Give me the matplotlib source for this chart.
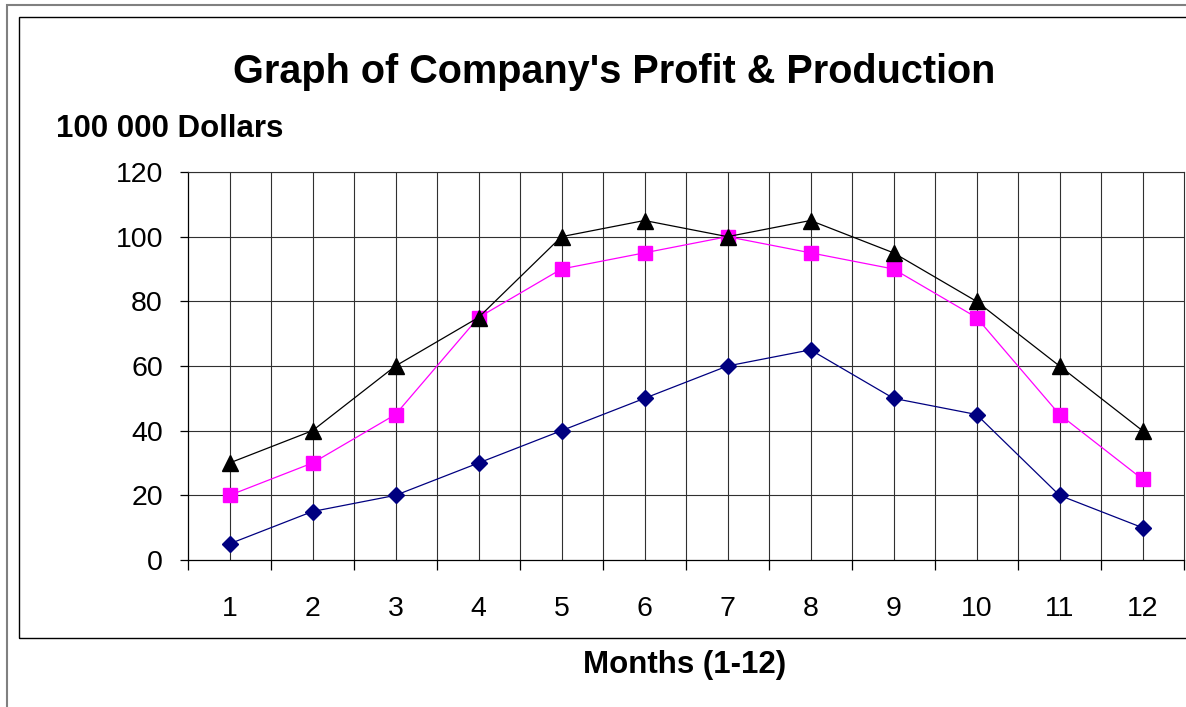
import matplotlib
matplotlib.use("Agg")
import matplotlib.pyplot as plt
from matplotlib.patches import Rectangle
import numpy as np

months = list(range(1, 13))
month_labels = [str(m) for m in months]
series_diamond = [5, 15, 20, 30, 40, 50, 60, 65, 50, 45, 20, 10]
series_square = [20, 30, 45, 75, 90, 95, 100, 95, 90, 75, 45, 25]
series_triangle = [30, 40, 60, 75, 100, 105, 100, 105, 95, 80, 60, 40]
y_ticks = [0, 20, 40, 60, 80, 100, 120]

title = "Graph of Company's Profit & Production"
y_title = "100 000 Dollars"
x_title = "Months (1-12)"

plt.rcParams['font.family'] = ['Liberation Sans', 'DejaVu Sans']

W, H = 1186, 707
fig = plt.figure(figsize=(W / 100, H / 100), dpi=100)
fig.patch.set_facecolor('white')

def fx(px):
    return px / W

def fy(py):
    return 1 - py / H

# outer and inner borders
fig.patches.append(Rectangle((fx(7), fy(720)), 2.0, fy(5) - fy(720),
                             transform=fig.transFigure, fill=False,
                             edgecolor='#808080', linewidth=1.5))
fig.patches.append(Rectangle((fx(19), fy(638)), 2.0, fy(17) - fy(638),
                             transform=fig.transFigure, fill=False,
                             edgecolor='#000000', linewidth=1.0))

left, right, top, bottom = 188, 1184, 172, 560
ax = fig.add_axes([fx(left), fy(bottom), fx(right) - fx(left), fy(top) - fy(bottom)])
ax.set_xlim(0.5, 12.5)
ax.set_ylim(0, 120)

# gridlines
grid_color = '#303030'
for m in months:
    ax.axvline(m, color=grid_color, lw=0.8, zorder=1)
for b in np.arange(1.5, 12.5, 1.0):
    ax.axvline(b, color=grid_color, lw=0.8, zorder=1)
for yv in y_ticks[1:]:
    ax.axhline(yv, color=grid_color, lw=0.8, zorder=1)

ax.plot(months, series_diamond, color='#000080', lw=0.9, marker='D',
        markersize=8.6, markerfacecolor='#000080', markeredgecolor='#000080', zorder=3)
ax.plot(months, series_square, color='#FF00FF', lw=0.9, marker='s',
        markersize=10, markerfacecolor='#FF00FF', markeredgecolor='#FF00FF', zorder=3)
ax.plot(months, series_triangle, color='#000000', lw=0.9, marker='^',
        markersize=12, markerfacecolor='#000000', markeredgecolor='#000000', zorder=4)

for s in ['top', 'right']:
    ax.spines[s].set_color(grid_color)
    ax.spines[s].set_linewidth(0.8)
for s in ['left', 'bottom']:
    ax.spines[s].set_color('black')
    ax.spines[s].set_linewidth(0.9)

ax.set_yticks(y_ticks)
ax.set_yticklabels([str(v) for v in y_ticks])
ax.tick_params(axis='y', direction='out', length=6, width=0.9, pad=12, labelsize=20.5)

ax.set_xticks(np.arange(0.5, 13, 1.0))
ax.set_xticklabels([])
ax.tick_params(axis='x', which='major', direction='out', length=7.5, width=0.9)
ax.set_xticks(months, minor=True)
ax.set_xticklabels(month_labels, minor=True)
ax.tick_params(axis='x', which='minor', length=0, pad=26, labelsize=20.5)

fig.text(fx(614), fy(83), title, ha='center', va='baseline',
         fontsize=28.5, fontweight='bold')
fig.text(fx(56), fy(137), y_title, ha='left', va='baseline',
         fontsize=22.5, fontweight='bold')
fig.text(fx(685), fy(673), x_title, ha='center', va='baseline',
         fontsize=22.5, fontweight='bold')

fig.savefig('out.png', dpi=100, facecolor='white')
